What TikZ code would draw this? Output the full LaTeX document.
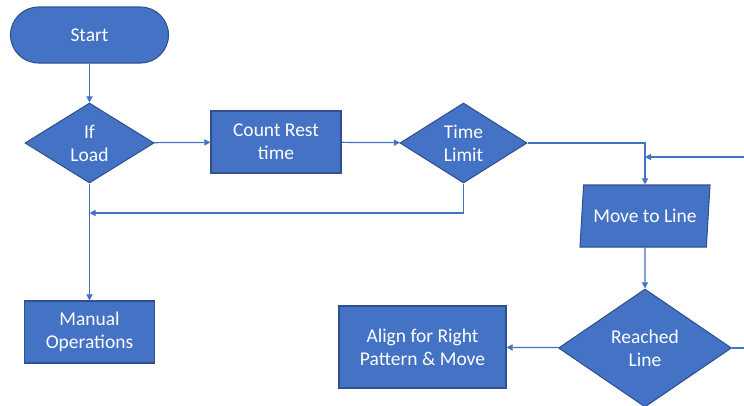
\documentclass[tikz,border=0pt]{standalone}
\usepackage{fontspec}
\setmainfont{Carlito}
\usetikzlibrary{shapes.geometric,arrows.meta}
\definecolor{boxblue}{HTML}{4472C4}
\definecolor{edgeblue}{HTML}{2F528F}
\begin{document}
\begin{tikzpicture}[font=\fontsize{11.1}{13.1}\selectfont,
  block/.style={draw=edgeblue, line width=0.6pt, fill=boxblue, text=white, align=center},
  proc/.style={block, rectangle, minimum width=2.6cm, minimum height=1.24cm},
  decide/.style={block, diamond, inner sep=0pt, shape aspect=1.55},
  flow/.style={draw=boxblue, line width=0.7pt},
  go/.style={flow, -{Triangle[length=3.5pt,width=3.5pt]}}]

   \useasboundingbox (0,0) rectangle (14.88,8.1);

   \node[block, rounded corners=0.56cm, minimum width=3.16cm, minimum height=1.12cm] (start) at (1.79,7.40) {Start};
   \node[decide, minimum width=2.58cm, minimum height=1.6cm] (ifload) at (1.79,5.24) {If\\Load};
   \node[proc] (count) at (5.52,5.26) {Count Rest\\time};
   \node[decide, minimum width=2.54cm, minimum height=1.6cm] (timelimit) at (9.27,5.24) {Time\\Limit};
   \node[block, trapezium, trapezium left angle=80, trapezium right angle=100, trapezium stretches body,
         minimum width=2.6cm, minimum height=1.24cm, inner sep=2pt] (moveline) at (12.90,3.78) {Move to Line};
   \node[decide, shape aspect=1.47, minimum width=3.46cm, minimum height=2.36cm] (reached) at (12.90,1.14) {Reached\\Line};
   \node[proc, minimum width=3.34cm, minimum height=1.64cm] (align) at (8.45,1.16) {Align for Right\\Pattern \& Move};
   \node[proc] (manual) at (1.79,1.46) {Manual\\Operations};

   \coordinate (back) at (1.79,3.84);
   \coordinate (fromright) at (14.88,4.96);
   \coordinate (toright) at (14.88,1.14);

   \draw[go] (start) -- (ifload);
   \draw[go] (ifload) -- (count);
   \draw[go] (count) -- (timelimit);
   \draw[go] (timelimit.east) -| (moveline.north);
   \draw[go] (fromright) -- (fromright -| moveline.north);
   \draw[go] (timelimit.south) |- (back);
   \draw[go] (ifload) -- (manual);
   \draw[go] (moveline) -- (reached);
   \draw[go] (reached) -- (align);
   \draw[flow] (reached.east) -- (toright);

\end{tikzpicture}
\end{document}
